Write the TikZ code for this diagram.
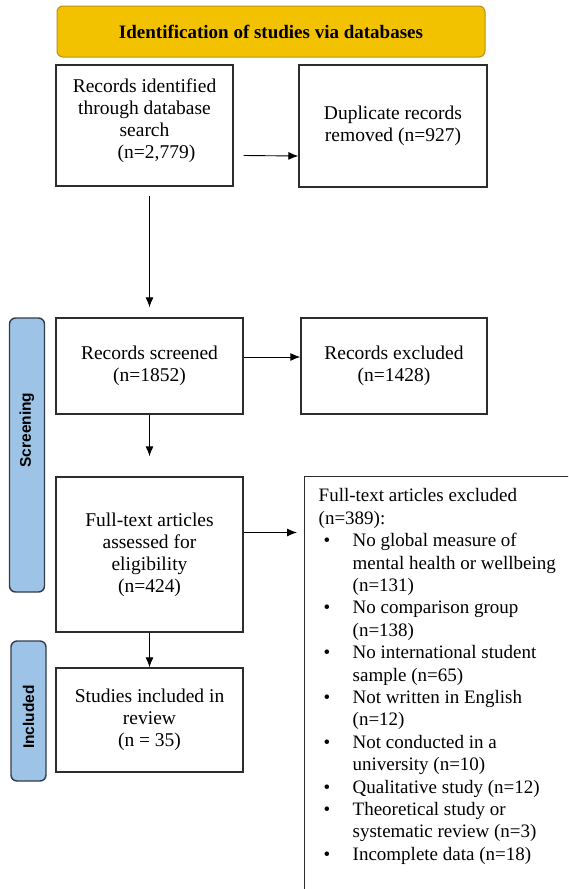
\documentclass[tikz,border=0pt]{standalone}
\usepackage{fontspec}
\setmainfont{Liberation Serif}
\newfontfamily\phasefont{Liberation Sans}
\usetikzlibrary{arrows.meta,calc}
\definecolor{BannerClr}{RGB}{242,194,0}
\definecolor{BannerLine}{RGB}{185,145,20}
\definecolor{PhaseClr}{RGB}{157,195,230}
\definecolor{PhaseLine}{RGB}{50,60,75}
\definecolor{BoxLine}{RGB}{45,45,45}
\newcommand{\exbul}{\hspace*{5pt}\makebox[29pt][l]{\textbullet}}
\newcommand{\excont}{\hspace*{34pt}}

\begin{document}
\begin{tikzpicture}[x=1pt,y=-1pt,
  box/.style={draw=BoxLine,line width=1.4pt,fill=white,align=center,inner sep=0pt,
    font=\fontsize{19.5}{22}\selectfont},
  banner/.style={draw=BannerLine,line width=1pt,fill=BannerClr,rounded corners=6pt,
    inner sep=0pt,font=\bfseries\fontsize{19}{22}\selectfont},
  phase/.style={draw=PhaseLine,line width=1.4pt,fill=PhaseClr,rounded corners=6pt,
    inner sep=0pt,minimum width=35pt},
  phasetxt/.style={rotate=90,inner sep=0pt,font=\phasefont\bfseries\fontsize{15.5}{17}\selectfont},
  arr/.style={-{Latex[length=10pt,width=8pt]},line width=0.9pt}]

\useasboundingbox (0,0) rectangle (568,889);
\clip (0,0) rectangle (568,889);

\node[banner,minimum width=428pt,minimum height=51pt] (banner) at (271,31.5)
  {Identification of studies via databases};

\node[box,minimum width=177pt,minimum height=121pt] (ident) at (144.5,125.5)
  {Records identified\\through database\\search\\\hspace*{24pt}(n=2,779)\\[-8pt]\mbox{}};
\node[box,minimum width=188pt,minimum height=122pt] (dup) at (393,126)
  {Duplicate records\\removed (n=927)};

\node[box,minimum width=187pt,minimum height=96pt] (screened) at (149.5,366)
  {Records screened\\(n=1852)};
\node[box,minimum width=186pt,minimum height=96pt] (excl) at (394,366)
  {Records excluded\\(n=1428)};

\node[box,minimum width=187pt,minimum height=155pt] (fulltext) at (149.5,554.5)
  {Full-text articles\\assessed for\\eligibility\\(n=424)};
\node[box,anchor=north west,align=left,inner xsep=14pt,inner ysep=12pt,
  font=\fontsize{19}{22.4}\selectfont] (exclft) at (304,476)
  {\parbox[t][430pt][t]{280pt}{%
   Full-text articles excluded\\
   (n=389):\\
   \exbul No global measure of\\
   \excont mental health or wellbeing\\
   \excont (n=131)\\
   \exbul No comparison group\\
   \excont (n=138)\\
   \exbul No international student\\
   \excont sample (n=65)\\
   \exbul Not written in English\\
   \excont (n=12)\\
   \exbul Not conducted in a\\
   \excont university (n=10)\\
   \exbul Qualitative study (n=12)\\
   \exbul Theoretical study or\\
   \excont systematic review (n=3)\\
   \exbul Incomplete data (n=18)}};

\node[box,minimum width=187pt,minimum height=104pt] (studies) at (149.5,720)
  {Studies included in\\review\\(n = 35)};

\node[phase,minimum height=274pt] (screening) at (27,455) {};
\node[phasetxt] at ([yshift=25pt]screening.center) {Screening};
\node[phase,minimum height=140pt] (included) at (28.5,711) {};
\node[phasetxt] at ([yshift=-6pt]included.center) {Included};

\draw[arr] ([shift={(10,30)}]ident.east) -- ([shift={(0,30)}]dup.west);
\draw[arr] ($(ident.south -| screened.north)+(0,9)$) -- ($(screened.north)+(0,-10)$);
\draw[arr] ([yshift=9pt]screened.east) -- ([yshift=9pt]excl.west);
\draw[arr] (screened.south) -- ($(fulltext.north)+(0,-20)$);
\draw[arr] ([yshift=22pt]fulltext.east) -- ($(fulltext.east -| exclft.west)+(-7,-22)$);
\draw[arr] (fulltext.south) -- (studies.north);

\end{tikzpicture}
\end{document}
